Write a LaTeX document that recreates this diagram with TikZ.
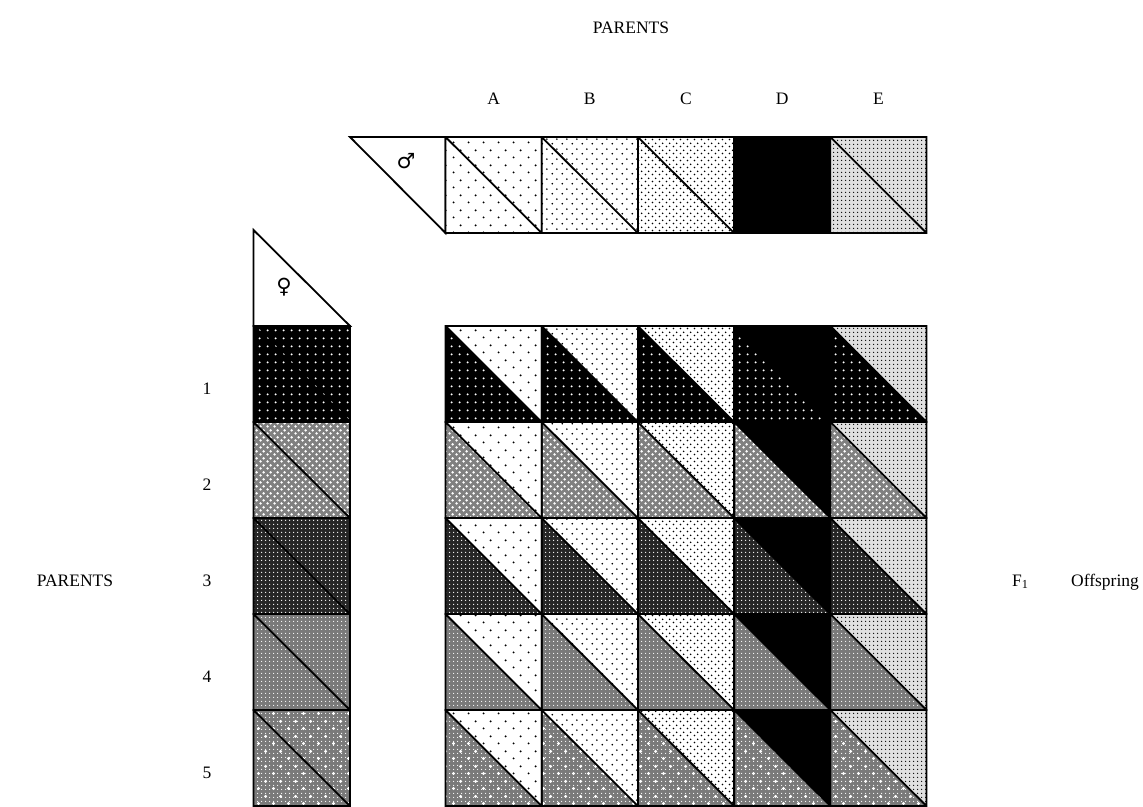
\documentclass[tikz,border=0pt]{standalone}
\usepackage{fontspec}
\setmainfont{Liberation Serif}
\newfontfamily\symfont{DejaVu Sans}
\usetikzlibrary{patterns}

% staggered dot lattices
\pgfdeclarepatternformonly{stagA}{\pgfpointorigin}{\pgfqpoint{15pt}{15pt}}{\pgfqpoint{15pt}{15pt}}{%
  \pgfpathcircle{\pgfqpoint{3.75pt}{3.75pt}}{1.1pt}\pgfpathcircle{\pgfqpoint{11.25pt}{11.25pt}}{1.1pt}\pgfusepath{fill}}
\pgfdeclarepatternformonly{stagB}{\pgfpointorigin}{\pgfqpoint{10pt}{10pt}}{\pgfqpoint{10pt}{10pt}}{%
  \pgfpathcircle{\pgfqpoint{2.5pt}{2.5pt}}{1.0pt}\pgfpathcircle{\pgfqpoint{7.5pt}{7.5pt}}{1.0pt}\pgfusepath{fill}}
\pgfdeclarepatternformonly{stagC}{\pgfpointorigin}{\pgfqpoint{7pt}{7pt}}{\pgfqpoint{7pt}{7pt}}{%
  \pgfpathcircle{\pgfqpoint{1.75pt}{1.75pt}}{1.0pt}\pgfpathcircle{\pgfqpoint{5.25pt}{5.25pt}}{1.0pt}\pgfusepath{fill}}
\pgfdeclarepatternformonly{stagSeven}{\pgfpointorigin}{\pgfqpoint{7pt}{7pt}}{\pgfqpoint{7pt}{7pt}}{%
  \pgfpathcircle{\pgfqpoint{1.75pt}{1.75pt}}{1.5pt}\pgfpathcircle{\pgfqpoint{5.25pt}{5.25pt}}{1.5pt}\pgfusepath{fill}}
\pgfdeclarepatternformonly{stagBig}{\pgfpointorigin}{\pgfqpoint{15pt}{15pt}}{\pgfqpoint{15pt}{15pt}}{%
  \pgfpathcircle{\pgfqpoint{3.75pt}{3.75pt}}{1.7pt}\pgfpathcircle{\pgfqpoint{11.25pt}{11.25pt}}{1.7pt}\pgfusepath{fill}}
% square dot grids
\pgfdeclarepatternformonly{gridE}{\pgfpointorigin}{\pgfqpoint{4pt}{4pt}}{\pgfqpoint{4pt}{4pt}}{%
  \pgfpathcircle{\pgfqpoint{2pt}{2pt}}{0.85pt}\pgfusepath{fill}}
\pgfdeclarepatternformonly{gridEight}{\pgfpointorigin}{\pgfqpoint{8pt}{8pt}}{\pgfqpoint{8pt}{8pt}}{%
  \pgfpathcircle{\pgfqpoint{4pt}{4pt}}{1.2pt}\pgfusepath{fill}}
\pgfdeclarepatternformonly{gridFour}{\pgfpointorigin}{\pgfqpoint{4pt}{4pt}}{\pgfqpoint{4pt}{4pt}}{%
  \pgfpathcircle{\pgfqpoint{2pt}{2pt}}{0.9pt}\pgfusepath{fill}}
\pgfdeclarepatternformonly{gridFine}{\pgfpointorigin}{\pgfqpoint{4pt}{4pt}}{\pgfqpoint{4pt}{4pt}}{%
  \pgfpathcircle{\pgfqpoint{2pt}{2pt}}{0.7pt}\pgfusepath{fill}}

\begin{document}
\begin{tikzpicture}[x=1pt,y=-1pt,
  edge/.style={draw=black,line width=1.8pt,line join=miter},
  lbl/.style={inner sep=0pt,font=\fontsize{17.5}{20}\selectfont},
  sym/.style={inner sep=0pt,font=\symfont\fontsize{21}{24}\selectfont},
  colA/.style={fill=white,postaction={pattern=stagA,pattern color=black}},
  colB/.style={fill=white,postaction={pattern=stagB,pattern color=black}},
  colC/.style={fill=white,postaction={pattern=stagC,pattern color=black}},
  colD/.style={fill=black},
  colE/.style={fill=black!12,postaction={pattern=gridE,pattern color=black}},
  rowone/.style={fill=black,postaction={pattern=gridEight,pattern color=white}},
  rowtwo/.style={fill=black!50,postaction={pattern=stagSeven,pattern color=white}},
  rowthree/.style={fill=black!85,postaction={pattern=gridFour,pattern color=white}},
  rowfour/.style={fill=black!52,postaction={pattern=gridFine,pattern color=white}},
  rowfive/.style={fill=black!52,postaction={pattern=gridFine,pattern color=white},
                  postaction={pattern=stagBig,pattern color=white}}]
\useasboundingbox (0,0) rectangle (1143,806);

% titles
\node[lbl,anchor=base] (ptop) at (631,33) {PARENTS};
\node[lbl,anchor=base] (pleft) at (75,586) {PARENTS};
\node[lbl,anchor=base west] (f1) at (1012,586) {F\textsubscript{1}};
\node[lbl,anchor=base west] (off) at (1071,586) {Offspring};

\foreach \l [count=\i from 0] in {A,B,C,D,E}{
  \pgfmathsetmacro\xc{493.6+\i*96.2}
  \node[lbl,anchor=base] (c\l) at (\xc,104) {\l};
}
\foreach \n [count=\j from 0] in {1,2,3,4,5}{
  \pgfmathsetmacro\yc{394+\j*96}
  \node[lbl,anchor=base] (r\n) at (207,\yc) {\n};
}

% male triangle and top row
\draw[edge,fill=white] (350,137) -- (445.5,137) -- (445.5,233) -- cycle;
\node[sym] (male) at (406,161) {♂};
\foreach \cp [count=\i from 0] in {colA,colB,colC,colD,colE}{
  \pgfmathsetmacro\xa{445.5+\i*96.2}\pgfmathsetmacro\xb{\xa+96.2}
  \path[\cp] (\xa,137) rectangle (\xb,233);
  \draw[edge] (\xa,137) rectangle (\xb,233) (\xa,137) -- (\xb,233);
}

% female triangle and left column
\draw[edge,fill=white] (253.5,230) -- (253.5,326) -- (350,326) -- cycle;
\node[sym] (female) at (284,287) {♀};
\foreach \rp [count=\j from 0] in {rowone,rowtwo,rowthree,rowfour,rowfive}{
  \pgfmathsetmacro\ya{326+\j*96}\pgfmathsetmacro\yb{\ya+96}
  \path[\rp] (253.5,\ya) rectangle (350,\yb);
  \draw[edge] (253.5,\ya) rectangle (350,\yb) (253.5,\ya) -- (350,\yb);
}

% offspring grid
\foreach \cp [count=\i from 0] in {colA,colB,colC,colD,colE}{
  \foreach \rp [count=\j from 0] in {rowone,rowtwo,rowthree,rowfour,rowfive}{
    \pgfmathsetmacro\xa{445.5+\i*96.2}\pgfmathsetmacro\xb{\xa+96.2}
    \pgfmathsetmacro\ya{326+\j*96}\pgfmathsetmacro\yb{\ya+96}
    \path[\cp] (\xa,\ya) -- (\xb,\ya) -- (\xb,\yb) -- cycle;
    \path[\rp] (\xa,\ya) -- (\xa,\yb) -- (\xb,\yb) -- cycle;
  }
}
\foreach \i in {0,...,4}{
  \foreach \j in {0,...,4}{
    \pgfmathsetmacro\xa{445.5+\i*96.2}\pgfmathsetmacro\xb{\xa+96.2}
    \pgfmathsetmacro\ya{326+\j*96}\pgfmathsetmacro\yb{\ya+96}
    \draw[edge] (\xa,\ya) rectangle (\xb,\yb) (\xa,\ya) -- (\xb,\yb);
  }
}
\end{tikzpicture}
\end{document}
